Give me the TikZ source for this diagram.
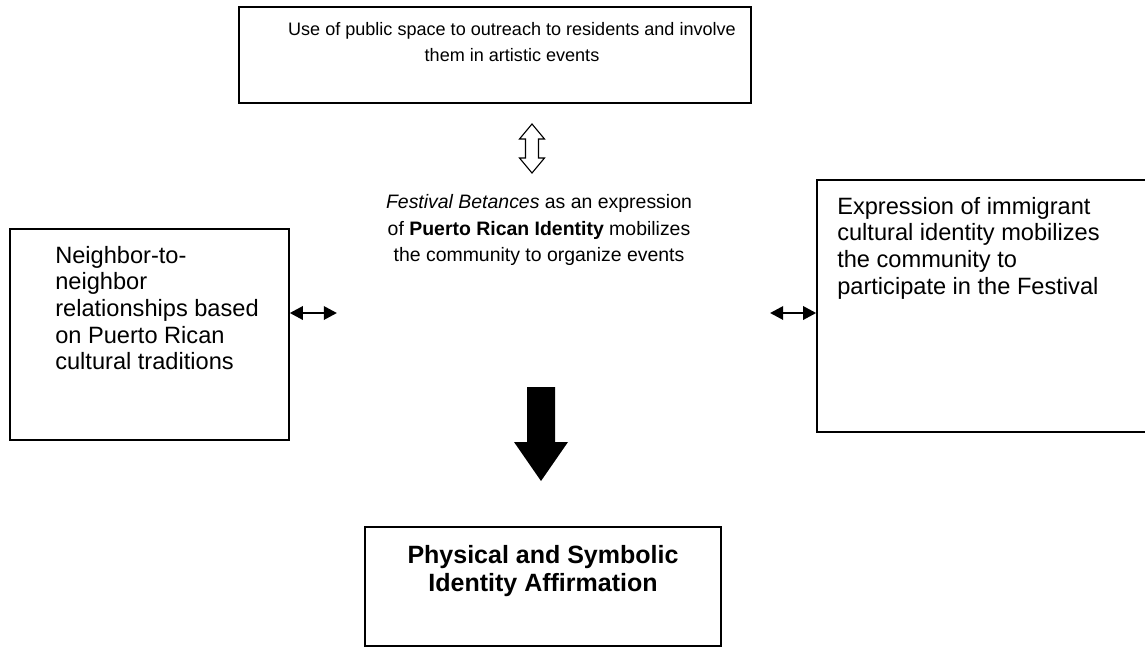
\documentclass[tikz,border=0pt]{standalone}
\usepackage{fontspec}
\setmainfont{Liberation Sans}
\usepackage{tikz}
\usetikzlibrary{arrows.meta}

\begin{document}
\begin{tikzpicture}[x=0.72pt, y=-0.72pt,
    box/.style={draw, line width=1pt, inner sep=0pt},
    txt/.style={inner sep=0pt, font=\fontsize{17}{19.2}\selectfont},
    link/.style={line width=2pt, {Triangle[length=9.5pt, width=9.5pt]}-{Triangle[length=9.5pt, width=9.5pt]}}]
    \useasboundingbox (0,0) rectangle (1145,648);
    % boxes
    \node[box, minimum width=368.6pt, minimum height=69.1pt] (public) at (495,55) {};
    \node[box, minimum width=200.9pt, minimum height=151.9pt] (neighbor) at (149.5,334.5) {};
    \node[box, minimum width=239.8pt, minimum height=181.4pt] (immigrant) at (983.5,306) {};
    \node[box, minimum width=256.3pt, minimum height=85.7pt] (affirm) at (543,586.5) {};
    % texts
    \node[txt, align=center, font=\fontsize{13}{19.1}\selectfont] (publictext) at (512,42) {Use of public space to outreach to residents and involve\\them in artistic events};
    \node[txt, align=center, font=\fontsize{14}{19.1}\selectfont] (festival) at (539,230) {\textit{Festival Betances} as an expression\\of \textbf{Puerto Rican Identity} mobilizes\\the community to organize events};
    \node[txt, align=left, anchor=west] (neighbortext) at (55,308) {Neighbor-to-\\neighbor\\relationships based\\on Puerto Rican\\cultural traditions};
    \node[txt, align=left, anchor=west] (immigranttext) at (837,248) {Expression of immigrant\\cultural identity mobilizes\\the community to\\participate in the Festival};
    \node[txt, align=center, font=\fontsize{18}{19.5}\selectfont\bfseries] (affirmtext) at (543,571) {Physical and Symbolic\\Identity Affirmation};
    % arrows
    \draw[line width=0.8pt] (532,124) -- (544.5,139) -- (538.5,139) -- (538.5,158) -- (544.5,158) -- (532,173)
        -- (519.5,158) -- (525.5,158) -- (525.5,139) -- (519.5,139) -- cycle;
    \coordinate (leftend) at (337,313);
    \coordinate (rightend) at (770,313);
    \draw[link] (neighbor.east |- leftend) -- (leftend);
    \draw[link] (rightend) -- (immigrant.west |- rightend);
    \fill (527,387) -- (555,387) -- (555,442) -- (568,442) -- (541,481) -- (514,442) -- (527,442) -- cycle;
\end{tikzpicture}
\end{document}
